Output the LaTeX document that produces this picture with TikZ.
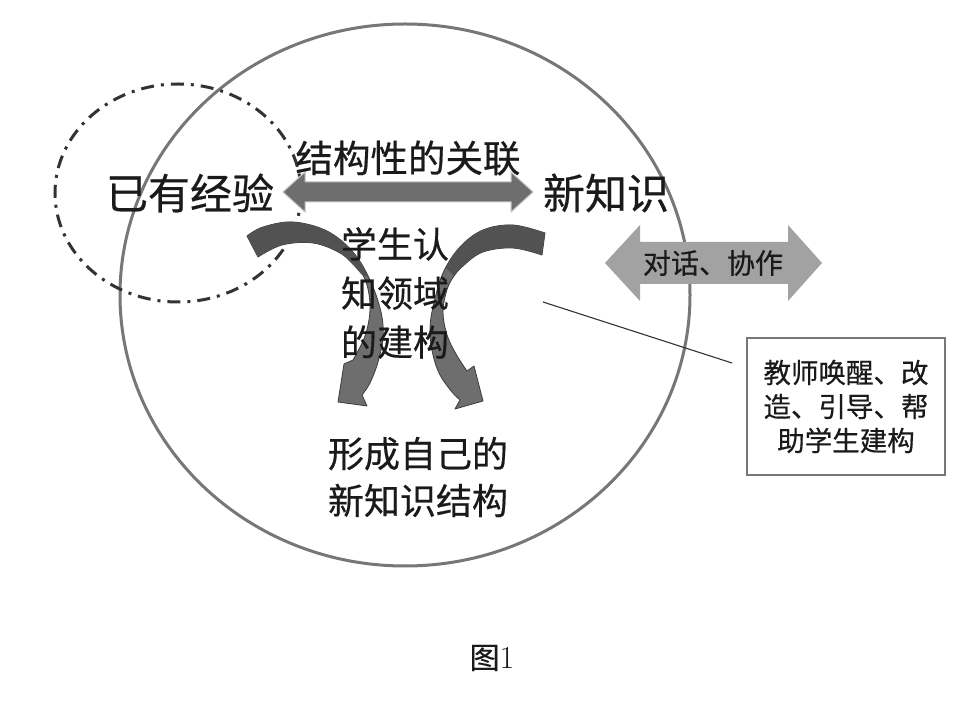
\documentclass[tikz,border=0pt]{standalone}
\usepackage{fontspec}
\newfontfamily\cjk[FakeBold=0.5]{Noto Sans CJK SC}
\definecolor{ringgray}{HTML}{777777}
\definecolor{dashdark}{HTML}{333333}
\definecolor{arrowdark}{HTML}{6E6E6E}
\definecolor{arrowdeep}{HTML}{525252}
\definecolor{arrowedge}{HTML}{3C3C3C}
\definecolor{dialoggray}{HTML}{A2A2A2}
\definecolor{txt}{HTML}{1A1A1A}
\tikzset{
  lbl/.style={inner sep=0pt, text=txt, align=center},
  bigtxt/.style={lbl, font=\cjk\fontsize{42}{50}\selectfont},
  midtxt/.style={lbl, font=\cjk\fontsize{36}{49}\selectfont},
  lowtxt/.style={lbl, font=\cjk\fontsize{36}{47}\selectfont},
  smalltxt/.style={lbl, font=\cjk\fontsize{28}{33}\selectfont},
  notebox/.style={draw=ringgray, line width=1.5pt, minimum width=198pt, minimum height=137pt, inner sep=0pt, align=center, text=txt, font=\cjk\fontsize{27.5}{34}\selectfont},
  curvedarrow/.style={fill=arrowdark, draw=arrowedge, line width=0.8pt, line join=round},
  tailband/.style={fill=arrowdeep},
}
\begin{document}
\begin{tikzpicture}[x=1pt,y=-1pt]
\useasboundingbox[fill=white] (0,0) rectangle (978,708);

% big circle
\draw[ringgray, line width=3pt] (405,295) ellipse [x radius=285, y radius=271];
% dash-dot ellipse
\draw[dashdark, line width=3pt, dash pattern=on 13pt off 7pt on 3pt off 7pt] (178,193) ellipse [x radius=123, y radius=109];

% curved arrows
\path[curvedarrow] plot[smooth, tension=0.6] coordinates {(247,236) (263,227) (293,222) (327,231) (353,252) (370,280) (381,312) (383,337) (378,362) (370,383) (362,395)}
  -- (367,406) -- (338,402) -- (344,364) -- (353,360)
  -- plot[smooth, tension=0.6] coordinates {(353,360) (365,336) (370,310) (367,285) (358,268) (340,253) (313,243) (282,245) (258,257)} -- cycle;
\path[tailband] plot[smooth, tension=0.6] coordinates {(247,236) (263,227) (293,222) (327,231) (353,252) (368,277)}
  -- plot[smooth, tension=0.6] coordinates {(362,275) (340,253) (313,243) (282,245) (258,257)} -- cycle;

\path[curvedarrow] plot[smooth, tension=0.6] coordinates {(545,233) (513,225) (483,230) (460,247) (443,273) (433,307) (430,331) (433,355) (440,375) (452,392) (460,400)}
  -- (455,409) -- (483,401) -- (474,366) -- (467,371)
  -- plot[smooth, tension=0.6] coordinates {(467,371) (456,354) (447,335) (443,313) (446,293) (452,279) (463,266) (483,252) (513,248) (542,255)} -- cycle;
\path[tailband] plot[smooth, tension=0.6] coordinates {(545,233) (513,225) (483,230) (460,247) (446,268)}
  -- plot[smooth, tension=0.6] coordinates {(454,276) (463,266) (483,252) (513,248) (542,255)} -- cycle;

% structural double arrow
\path[fill=arrowdark, draw=white!60!arrowdark, line width=1pt] (283,192) -- (305,172) -- (305,182) -- (511,182) -- (511,172) -- (533,192) -- (511,212) -- (511,202) -- (305,202) -- (305,212) -- cycle;

% dialogue double arrow
\path[fill=dialoggray] (605,263) -- (640,225) -- (640,242) -- (788,242) -- (788,225) -- (822,263) -- (788,301) -- (788,284) -- (640,284) -- (640,301) -- cycle;

% texts
\node[bigtxt] (exp) at (190,193) {已有经验};
\node[bigtxt] (newk) at (606,193) {新知识};
\node[lbl, font=\cjk\fontsize{37.5}{45}\selectfont] (rel) at (408,158) {结构性的关联};
\node[midtxt] (dom) at (395,293) {学生认\\知领域\\的建构};
\node[lowtxt] (own) at (418,477) {形成自己的\\新知识结构};
\node[smalltxt] (dlg) at (713,263) {对话、协作};
\node[notebox] (note) at (846,406.5) {\raisebox{-4pt}{\parbox{190pt}{\centering 教师唤醒、改\\造、引导、帮\\助学生建构}}};
\node[lbl, font=\cjk\fontsize{30}{36}\selectfont] (cap) at (492,658) {图{\rmfamily\fontsize{32}{36}\selectfont 1}};

% pointer line
\coordinate (ptrS) at (543,302);
\coordinate (ptrE) at (732,363);
\draw[dashdark, line width=1.1pt] (ptrS) -- (ptrE);
\end{tikzpicture}
\end{document}
